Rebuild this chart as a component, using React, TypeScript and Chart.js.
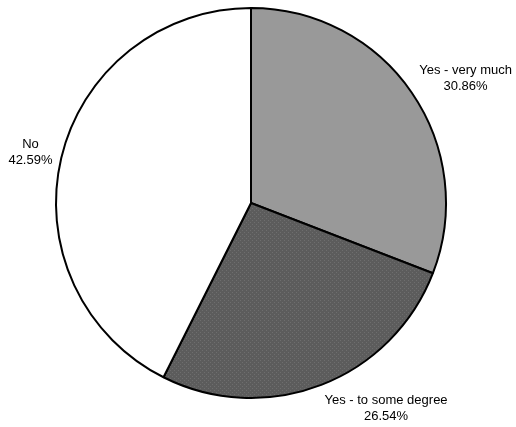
import React, { useEffect, useRef } from "react";
import { Chart, registerables } from "chart.js";

Chart.register(...registerables);

const categories = ["Yes - very much", "Yes - to some degree", "No"];
const values = [30.86, 26.54, 42.59];
const valueLabels = ["30.86%", "26.54%", "42.59%"];

function makePattern(): CanvasPattern | string {
  const c = document.createElement("canvas");
  c.width = 4;
  c.height = 4;
  const g = c.getContext("2d");
  if (!g) return "#606060";
  g.fillStyle = "#5c5c5c";
  g.fillRect(0, 0, 4, 4);
  g.fillStyle = "#6e6e6e";
  g.fillRect(0, 0, 1, 1);
  g.fillRect(2, 2, 1, 1);
  const p = g.createPattern(c, "repeat");
  return p || "#606060";
}

const labelPlugin = {
  id: "outerLabels",
  afterDraw(chart: any) {
    const ctx = chart.ctx;
    const meta = chart.getDatasetMeta(0);
    ctx.save();
    ctx.font = "13px 'Liberation Sans', Arial, sans-serif";
    ctx.fillStyle = "#000";
    ctx.textAlign = "center";
    ctx.textBaseline = "middle";
    const lh = 16;
    meta.data.forEach((arc: any, i: number) => {
      const { x, y, startAngle, endAngle, outerRadius } = arc.getProps(
        ["x", "y", "startAngle", "endAngle", "outerRadius"],
        true
      );
      const mid = (startAngle + endAngle) / 2;
      const dx = Math.cos(mid);
      const dy = Math.sin(mid);
      const px = x + dx * (outerRadius + 9);
      const py = y + dy * (outerRadius + 9);
      const lines = [categories[i], valueLabels[i]];
      const w = Math.max(...lines.map((l) => ctx.measureText(l).width));
      const h = lines.length * lh;
      const cx = px + Math.sign(dx) * w / 2;
      const cy = py + dy * h / 2;
      lines.forEach((l, k) => {
        ctx.fillText(l, cx, cy - h / 2 + lh / 2 + k * lh);
      });
    });
    ctx.restore();
  },
};

export default function App() {
  const ref = useRef<HTMLCanvasElement | null>(null);
  useEffect(() => {
    if (!ref.current) return;
    const chart = new Chart(ref.current, {
      type: "pie",
      data: {
        labels: categories,
        datasets: [
          {
            data: values,
            backgroundColor: ["#999999", makePattern() as any, "#ffffff"],
            borderColor: "#000000",
            borderWidth: 2,
          },
        ],
      },
      options: {
        animation: false,
        responsive: false,
        maintainAspectRatio: false,
        layout: { padding: { left: 55, right: 69, top: 7, bottom: 28 } },
        plugins: {
          legend: { display: false },
          tooltip: { enabled: false },
        },
      },
      plugins: [labelPlugin],
    });
    return () => chart.destroy();
  }, []);
  return (
    <div style={{ position: "fixed", left: 0, top: 0, width: 516, height: 427, background: "#fff" }}>
      <canvas ref={ref} width={516} height={427} style={{ width: 516, height: 427 }} />
    </div>
  );
}
